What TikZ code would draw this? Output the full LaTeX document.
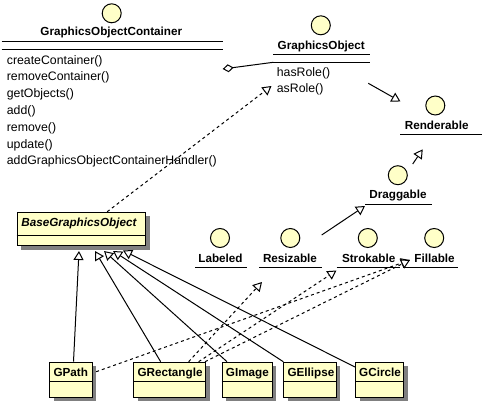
\documentclass[tikz,border=0pt]{standalone}
\usepackage{fontspec}
\setmainfont{Liberation Sans}
\usetikzlibrary{arrows.meta,shadows}
\definecolor{clsfill}{RGB}{255,255,200}
\definecolor{shadowgray}{RGB}{128,128,128}
\begin{document}
\begin{tikzpicture}[x=1pt,y=-1pt,
  titlef/.style={font=\fontsize{11.7}{14}\selectfont\bfseries, inner sep=0pt},
  methf/.style={font=\fontsize{12.3}{14}\selectfont, inner sep=0pt, anchor=base west},
  clsbox/.style={draw, line width=1pt, fill=clsfill, inner sep=0pt, anchor=north west,
    drop shadow={shadow xshift=4pt, shadow yshift=-4pt, fill=shadowgray, opacity=1}},
  iface/.style={circle, draw, line width=1pt, fill=clsfill, minimum size=19pt, inner sep=0pt},
  rule/.style={line width=1pt},
  gen/.style={line width=1pt, -{Triangle[open, length=9pt, width=10pt, fill=white]}},
  real/.style={gen, dash pattern=on 3pt off 3pt},
]
\useasboundingbox[fill=white] (0,0) rectangle (484,412);

% ---- GraphicsObjectContainer
\node[iface] (GOCc) at (111.7,13.3) {};
\node[titlef, anchor=base] (GOC) at (111.3,36) {GraphicsObjectContainer};
\draw[rule] (1.7,41.7) -- (222.7,41.7);
\draw[rule] (1.7,49.3) -- (222.7,49.3);
\node[methf] (m1) at (6.7,64) {createContainer()};
\node[methf] (m2) at (6.7,80.8) {removeContainer()};
\node[methf] (m3) at (6.7,97.6) {getObjects()};
\node[methf] (m4) at (6.7,114.4) {add()};
\node[methf] (m5) at (6.7,131.2) {remove()};
\node[methf] (m6) at (6.7,148) {update()};
\node[methf] (m7) at (6.7,164.8) {addGraphicsObjectContainerHandler()};

% ---- GraphicsObject
\node[iface] (GOc) at (320.8,25.3) {};
\node[titlef, anchor=base] (GO) at (321.3,49) {GraphicsObject};
\draw[rule] (273.3,54.3) -- (370,54.3);
\draw[rule] (273.3,62.3) -- (370,62.3);
\node[methf] (g1) at (276.7,76) {hasRole()};
\node[methf] (g2) at (276.7,92.7) {asRole()};

% ---- interfaces
\node[iface] (RendC) at (435.3,105.5) {};
\node[titlef, anchor=base] (Rend) at (436.7,129.3) {Renderable};
\draw[rule] (400,134.3) -- (481.7,134.3);

\node[iface] (DragC) at (397.8,175.2) {};
\node[titlef, anchor=base] (Drag) at (398,198.3) {Draggable};
\draw[rule] (365,204) -- (432.3,204);

\node[iface] (LabC) at (220,238) {};
\node[titlef, anchor=base] (Lab) at (220.5,262.3) {Labeled};
\draw[rule] (195,267.3) -- (246.7,267.3);

\node[iface] (ResC) at (290.3,238) {};
\node[titlef, anchor=base] (Res) at (290,262.3) {Resizable};
\draw[rule] (259,267.3) -- (321.7,267.3);

\node[iface] (StrC) at (367.8,238) {};
\node[titlef, anchor=base] (Str) at (368.7,262.3) {Strokable};
\draw[rule] (336.7,267.3) -- (400,267.3);

\node[iface] (FilC) at (434.2,238) {};
\node[titlef, anchor=base] (Fil) at (434.5,262.3) {Fillable};
\draw[rule] (403.3,267.3) -- (458.3,267.3);

% ---- classes
\node[clsbox, minimum width=128.3pt, minimum height=33.3pt] (Base) at (16.7,211.7) {};
\draw[rule] (16.7,235) -- (145,235);
\node[titlef, anchor=base west, font=\fontsize{11.7}{14}\selectfont\bfseries\itshape] (BaseT) at (21.2,226) {BaseGraphicsObject};

\node[clsbox, minimum width=42.4pt, minimum height=35pt] (GPath) at (49.3,361.7) {};
\draw[rule] (49.3,381.7) -- (91.7,381.7);
\node[titlef, anchor=base west] (GPathT) at (53.3,376.5) {GPath};

\node[clsbox, minimum width=71.7pt, minimum height=35pt] (GRect) at (133.3,361.7) {};
\draw[rule] (133.3,381.7) -- (205,381.7);
\node[titlef, anchor=base west] (GRectT) at (137.3,376.5) {GRectangle};

\node[clsbox, minimum width=50pt, minimum height=35pt] (GImage) at (221.7,361.7) {};
\draw[rule] (221.7,381.7) -- (271.7,381.7);
\node[titlef, anchor=base west] (GImageT) at (225.7,376.5) {GImage};

\node[clsbox, minimum width=52.4pt, minimum height=35pt] (GEll) at (283.3,361.7) {};
\draw[rule] (283.3,381.7) -- (335.7,381.7);
\node[titlef, anchor=base west] (GEllT) at (287.3,376.5) {GEllipse};

\node[clsbox, minimum width=48.3pt, minimum height=35pt] (GCirc) at (355,361.7) {};
\draw[rule] (355,381.7) -- (403.3,381.7);
\node[titlef, anchor=base west] (GCircT) at (359,376.5) {GCircle};

% ---- connector end points
\coordinate (aggS) at (222.7,69);
\coordinate (aggE) at (273.3,62.3);
\coordinate (tGO) at (271.5,86);
\coordinate (goR) at (368.3,83.3);
\coordinate (tRend) at (400.5,101.5);
\coordinate (dragS) at (412.7,164);
\coordinate (tRend2) at (422.7,149.3);
\coordinate (resS) at (321.7,235);
\coordinate (tDrag) at (365,206);
\coordinate (tRes) at (262,282);
\coordinate (tStr) at (336.5,270.5);
\coordinate (tFill) at (410,260);
\coordinate (tB1) at (79,251);
\coordinate (tB2) at (95,251);
\coordinate (tB3) at (104,251);
\coordinate (tB4) at (113,251);
\coordinate (tB5) at (123,250.5);

% ---- connectors
\draw[rule, {Diamond[open, length=11pt, width=8pt]}-] (aggS) -- (aggE);
\draw[real] ([xshift=25.85pt]Base.north) -- (tGO);
\draw[gen] (goR) -- (tRend);
\draw[gen] (dragS) -- (tRend2);
\draw[gen] (resS) -- (tDrag);

\draw[real] ([xshift=3.5pt,yshift=8pt]GPath.east) -- (tFill);
\draw[real] ([xshift=19pt]GRect.north) -- (tRes);
\draw[real] ([xshift=29pt]GRect.north) -- (tStr);
\draw[real] ([xshift=-1pt]GRect.north east) -- (tFill);

\draw[gen] ([xshift=2.5pt]GPath.north) -- (tB1);
\draw[gen] ([xshift=-9pt]GRect.north) -- (tB2);
\draw[gen] ([xshift=5.3pt]GImage.north west) -- (tB3);
\draw[gen] (GEll.north west) -- (tB4);
\draw[gen] ([yshift=-5.3pt]GCirc.north west) -- (tB5);
\end{tikzpicture}
\end{document}
